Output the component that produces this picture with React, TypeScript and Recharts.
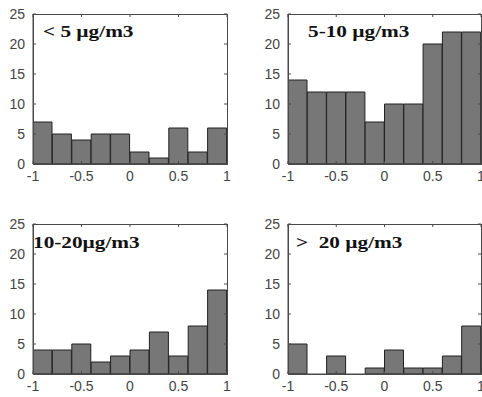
import { BarChart, Bar, XAxis, YAxis, ReferenceLine } from "recharts";

const binCenters = [-0.9, -0.7, -0.5, -0.3, -0.1, 0.1, 0.3, 0.5, 0.7, 0.9];
const lowCounts = [7, 5, 4, 5, 5, 2, 1, 6, 2, 6];
const midCounts = [14, 12, 12, 12, 7, 10, 10, 20, 22, 22];
const highCounts = [4, 4, 5, 2, 3, 4, 7, 3, 8, 14];
const topCounts = [5, 0, 3, 0, 1, 4, 1, 1, 3, 8];
const xTicks = [-1, -0.5, 0, 0.5, 1];
const yTicks = [0, 5, 10, 15, 20, 25];
const titles = ["< 5 µg/m3", "5-10 µg/m3", "10-20µg/m3", ">  20 µg/m3"];

const AXIS = "#4a4a4a";
const TICK = { fontSize: 14, fill: "#444", fontFamily: "'Liberation Sans', Arial, sans-serif" };
const BAR_FILL = "#777777";
const TOP = 14;
const LEFT = 33;
const PLOT_H = 150;
// inward tick length, in data units (~3px)
const TX = 0.5;
const TY = 0.031;

function Hist({ counts, width, right }: { counts: number[]; width: number; right: number }) {
  const data = binCenters.map((c, i) => ({ x: c, n: counts[i] }));
  const line = { stroke: AXIS, strokeWidth: 1, ifOverflow: "visible" as const };
  const plotW = width - LEFT - right;
  return (
    <div style={{ position: "relative", width, height: 200 }}>
      <BarChart
        width={width}
        height={200}
        data={data}
        margin={{ top: TOP, right, left: 0, bottom: 0 }}
        barCategoryGap={0}
        barGap={0}
      >
        <XAxis
          dataKey="x"
          type="number"
          domain={[-1, 1]}
          ticks={xTicks}
          interval={0}
          height={36}
          allowDataOverflow
          axisLine={{ stroke: AXIS, strokeWidth: 1 }}
          tick={TICK}
          tickLine={false}
          tickSize={-3}
          tickMargin={10}
        />
        <YAxis
          type="number"
          domain={[0, 25]}
          ticks={yTicks}
          interval={0}
          width={LEFT}
          allowDataOverflow
          axisLine={{ stroke: AXIS, strokeWidth: 1 }}
          tick={TICK}
          tickLine={false}
          tickSize={-3}
          tickMargin={11}
        />
        <Bar dataKey="n" fill={BAR_FILL} stroke="#222" strokeWidth={1} isAnimationActive={false} />
        {/* inward ticks on all four sides */}
        {xTicks.map((t) => (
          <ReferenceLine key={"b" + t} segment={[{ x: t, y: 0 }, { x: t, y: TX }]} {...line} />
        ))}
        {xTicks.map((t) => (
          <ReferenceLine key={"t" + t} segment={[{ x: t, y: 25 }, { x: t, y: 25 - TX }]} {...line} />
        ))}
        {yTicks.map((t) => (
          <ReferenceLine key={"l" + t} segment={[{ x: -1, y: t }, { x: -1 + TY, y: t }]} {...line} />
        ))}
        {yTicks.map((t) => (
          <ReferenceLine key={"r" + t} segment={[{ x: 1, y: t }, { x: 1 - TY, y: t }]} {...line} />
        ))}
      </BarChart>
      {/* box frame around the plot area */}
      <div
        style={{
          position: "absolute",
          left: LEFT,
          top: TOP,
          width: plotW + 1,
          height: PLOT_H + 1,
          boxSizing: "border-box",
          border: `1px solid ${AXIS}`,
          pointerEvents: "none",
        }}
      />
    </div>
  );
}

const titleStyle = {
  position: "absolute" as const,
  fontFamily: "'Liberation Serif', 'Times New Roman', serif",
  fontWeight: "bold" as const,
  fontSize: 17,
  lineHeight: "17px",
  color: "#111",
  whiteSpace: "pre" as const,
  transform: "scaleX(1.25)",
  transformOrigin: "left top",
};

export default function App() {
  return (
    <div style={{ position: "absolute", left: 0, top: 0, width: 482, height: 397, background: "#fff" }}>
      <div style={{ position: "absolute", left: 0, top: 0 }}>
        <Hist counts={lowCounts} width={241} right={14} />
      </div>
      <div style={{ position: "absolute", left: 255, top: 0 }}>
        <Hist counts={midCounts} width={227} right={1} />
      </div>
      <div style={{ position: "absolute", left: 0, top: 210 }}>
        <Hist counts={highCounts} width={241} right={14} />
      </div>
      <div style={{ position: "absolute", left: 255, top: 210 }}>
        <Hist counts={topCounts} width={227} right={1} />
      </div>
      <div style={{ ...titleStyle, left: 43, top: 23 }}>{titles[0]}</div>
      <div style={{ ...titleStyle, left: 308, top: 23 }}>{titles[1]}</div>
      <div style={{ ...titleStyle, left: 33, top: 234 }}>{titles[2]}</div>
      <div style={{ ...titleStyle, left: 296, top: 234 }}>{titles[3]}</div>
    </div>
  );
}
